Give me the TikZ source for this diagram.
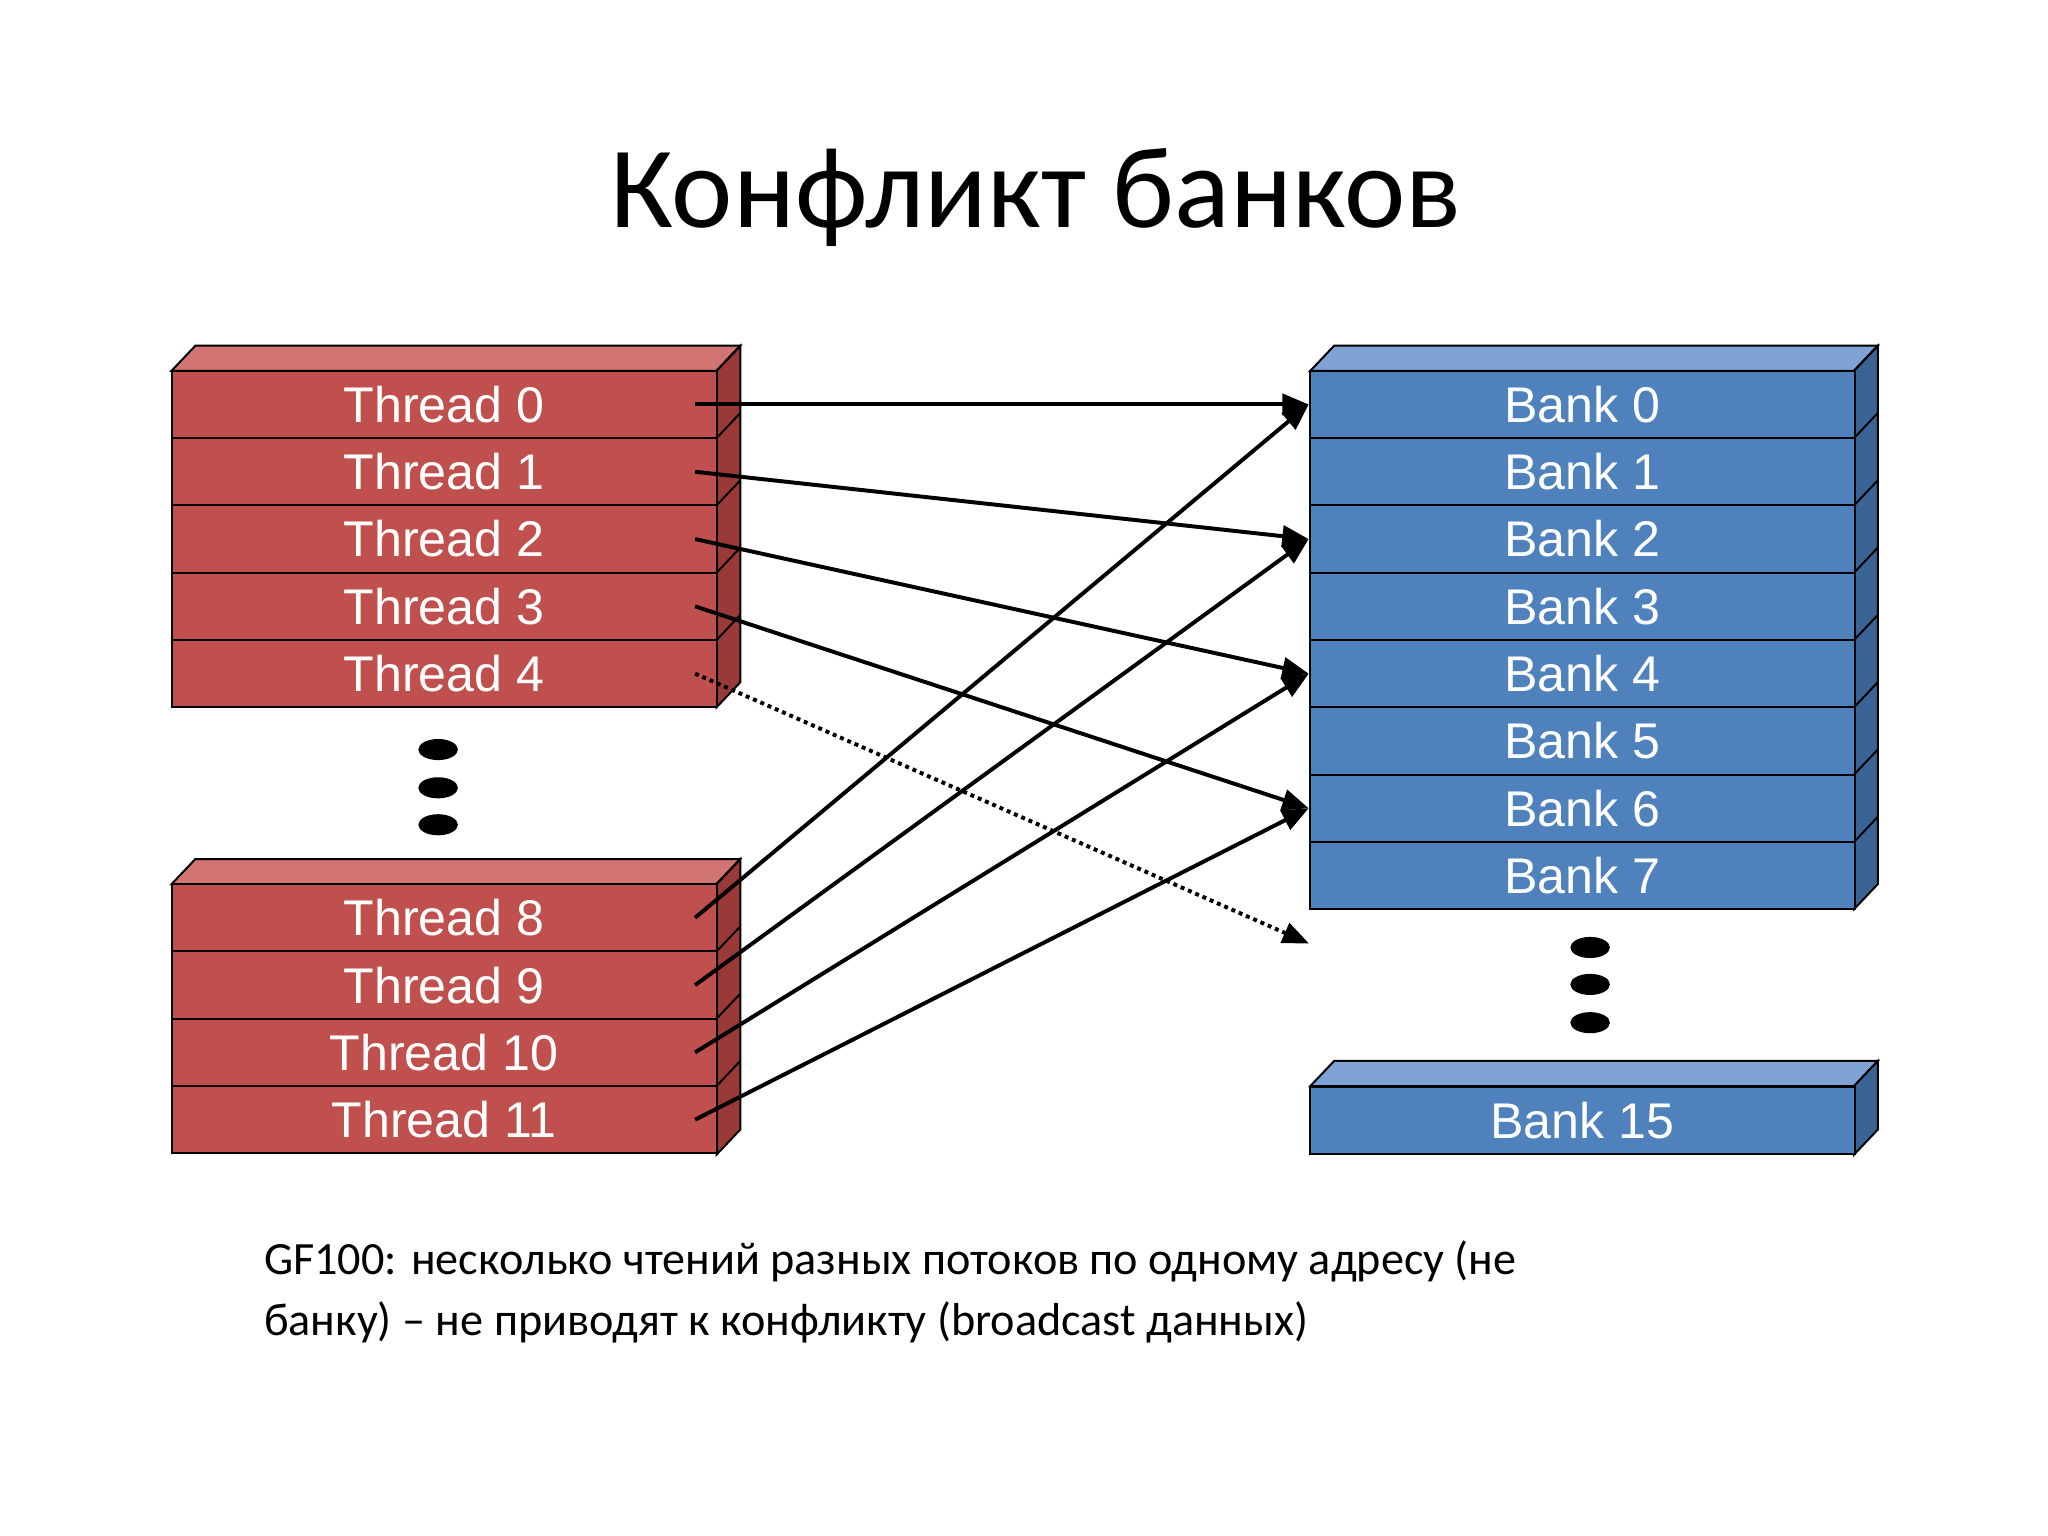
\documentclass[tikz,border=0pt]{standalone}
\usepackage{fontspec}
\setmainfont{Carlito}
\newfontfamily\arialf{Liberation Sans}
\usetikzlibrary{arrows.meta}
\definecolor{rf}{HTML}{C0504D}\definecolor{rt}{HTML}{D27472}\definecolor{rs}{HTML}{9A3A38}
\definecolor{bf}{HTML}{4F81BD}\definecolor{bt}{HTML}{7FA3D4}\definecolor{bs}{HTML}{3A6396}
\begin{document}
\begin{tikzpicture}[x=1pt,y=-1pt,
 row/.style={draw=black,line width=1.5pt,minimum width=413pt,minimum height=51pt,inner sep=0pt,text=white,font=\arialf\fontsize{38}{40}\selectfont},
 trow/.style={row,fill=rf},brow/.style={row,fill=bf},
 face/.style={draw=black,line width=1.5pt},
 arr/.style={line width=3pt,-{Triangle[length=20pt,width=16pt]}},
 dot/.style={fill=black,ellipse,minimum width=0pt}]
\useasboundingbox (0,0) rectangle (1552,1164);
\fill[white] (0,0) rectangle (1552,1164);
\node[font=\fontsize{88}{96}\selectfont] (title) at (785,150) {Конфликт банков};
% faces
\newcommand{\blockfaces}[6]{% x1,x2,ytop,ybot,topcol,sidecol
 \filldraw[face,fill=#5] (#1,#3) -- (#1+18,#3-19) -- (#2+18,#3-19) -- (#2,#3) -- cycle;
 \filldraw[face,fill=#6] (#2,#3) -- (#2+18,#3-19) -- (#2+18,#4-19) -- (#2,#4) -- cycle;}
\blockfaces{130}{543}{281}{536}{rt}{rs}
\blockfaces{130}{543}{670}{875}{rt}{rs}
\blockfaces{993}{1405}{281}{689}{bt}{bs}
\blockfaces{993}{1405}{823}{875}{bt}{bs}
\foreach \i in {0,...,4}{
 \node[trow] (t\i) at (336.5,306.5+51*\i) {Thread \i};
 \draw[face] (543,281+51*\i) -- (561,262+51*\i);}
\foreach \i [count=\k from 0] in {8,...,11}{
 \node[trow] (t\i) at (336.5,695.5+51*\k) {Thread \i};
 \draw[face] (543,670+51*\k) -- (561,651+51*\k);}
\foreach \i in {0,...,7}{
 \node[brow] (b\i) at (1199,306.5+51*\i) {Bank \i};
 \draw[face] (1405,281+51*\i) -- (1423,262+51*\i);}
\node[brow] (b15) at (1199,849) {Bank 15};
\foreach \y [count=\k] in {568,597,625}{\fill (332,\y) ellipse (15 and 8);}
\foreach \y [count=\k] in {718,746,775}{\fill (1205,\y) ellipse (15 and 8);}
\coordinate (miss) at (992,715);
\draw[arr] ([xshift=-17pt]t0.east) -- (b0.west);
\draw[arr] ([xshift=-17pt]t1.east) -- (b2.west);
\draw[arr] ([xshift=-17pt]t2.east) -- (b4.west);
\draw[arr] ([xshift=-17pt]t3.east) -- (b6.west);
\draw[arr,dashed] ([xshift=-17pt]t4.east) -- (miss);
\draw[arr] ([xshift=-17pt]t8.east) -- (b0.west);
\draw[arr] ([xshift=-17pt]t9.east) -- (b2.west);
\draw[arr] ([xshift=-17pt]t10.east) -- (b4.west);
\draw[arr] ([xshift=-17pt]t11.east) -- (b6.west);
\node[anchor=north west,align=left,font=\fontsize{35}{46}\selectfont,inner sep=0pt] (note) at (200,940)
 {GF100: несколько чтений разных потоков по одному адресу (не\\банку) – не приводят к конфликту (broadcast данных)};
\end{tikzpicture}
\end{document}
